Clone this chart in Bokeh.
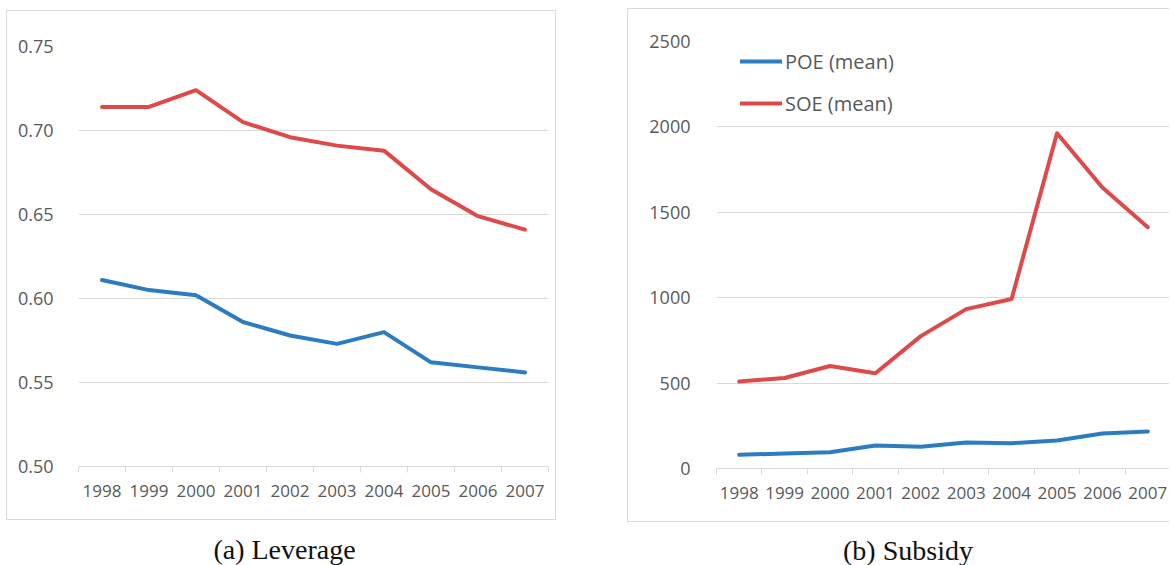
from bokeh.plotting import figure
from bokeh.models import (Range1d, FixedTicker, Div, Legend, LegendItem,
                          NumeralTickFormatter)
from bokeh.layouts import row, column
from bokeh.embed import file_html
from bokeh.resources import INLINE

# ---------------- data ----------------
years = ["1998", "1999", "2000", "2001", "2002", "2003", "2004", "2005", "2006", "2007"]
lev_poe = [0.611, 0.605, 0.602, 0.586, 0.578, 0.573, 0.580, 0.562, 0.559, 0.556]
lev_soe = [0.714, 0.714, 0.724, 0.705, 0.696, 0.691, 0.688, 0.665, 0.649, 0.641]
sub_poe = [80, 88, 95, 135, 127, 152, 148, 164, 205, 217]
sub_soe = [509, 530, 600, 558, 775, 933, 992, 1963, 1645, 1413]
lev_ticks = [0.50, 0.55, 0.60, 0.65, 0.70, 0.75]
sub_ticks = [0, 500, 1000, 1500, 2000, 2500]
series_names = ["POE (mean)", "SOE (mean)"]
captions = ["(a) Leverage", "(b) Subsidy"]

BLUE = "#2b7cc1"
RED = "#de4a4a"
GRID = "#d9d9d9"
TXT = "#595959"
FONT = "Open Sans"

n = len(years)
xs = [i + 0.5 for i in range(n)]
edges = list(range(n + 1))


def make_fig(width, height, mb, y_range, yticks, y_standoff, margin):
    p = figure(width=width, height=height, output_backend="svg",
               toolbar_location=None, x_range=Range1d(0, n), y_range=y_range,
               min_border_left=mb[0], min_border_right=mb[1],
               min_border_top=mb[2], min_border_bottom=mb[3],
               margin=margin)
    p.outline_line_color = None
    p.background_fill_color = "white"
    p.border_fill_color = "white"
    # x axis: labels at category centers, ticks on category boundaries
    xa = p.xaxis[0]
    xa.ticker = FixedTicker(ticks=xs, minor_ticks=edges)
    xa.major_label_overrides = {x: y for x, y in zip(xs, years)}
    xa.major_tick_line_color = None
    xa.major_tick_out = 0
    xa.major_tick_in = 0
    xa.minor_tick_line_color = GRID
    xa.minor_tick_out = 6
    xa.minor_tick_in = 0
    xa.axis_line_color = GRID
    xa.major_label_standoff = 12
    xa.major_label_text_font = FONT
    xa.major_label_text_font_size = "17px"
    xa.major_label_text_color = TXT
    # y axis
    ya = p.yaxis[0]
    ya.ticker = FixedTicker(ticks=yticks)
    ya.axis_line_color = None
    ya.major_tick_line_color = None
    ya.minor_tick_line_color = None
    ya.major_tick_out = 0
    ya.major_tick_in = 0
    ya.major_label_standoff = y_standoff
    ya.major_label_text_font = FONT
    ya.major_label_text_font_size = "18px"
    ya.major_label_text_color = TXT
    p.xgrid.visible = False
    p.ygrid.ticker = FixedTicker(ticks=yticks)
    p.ygrid.grid_line_color = GRID
    p.ygrid.grid_line_width = 1
    return p


# ---------- left: leverage ----------
p1 = make_fig(550, 510, (71, 9, 35, 55), Range1d(0.5, 0.75), lev_ticks, 25,
              (10, 0, 0, 6))
p1.yaxis[0].formatter = NumeralTickFormatter(format="0.00")
p1.line(xs, lev_poe, line_color=BLUE, line_width=4, line_cap="round", line_join="round")
p1.line(xs, lev_soe, line_color=RED, line_width=4, line_cap="round", line_join="round")
p1.styles = {"border": "1px solid " + GRID}

# ---------- right: subsidy ----------
p2 = make_fig(542, 514, (88, 0, 32, 55), Range1d(0, 2500), sub_ticks, 26,
              (8, 0, 0, 0))
r_poe = p2.line(xs, sub_poe, line_color=BLUE, line_width=4, line_cap="round", line_join="round")
r_soe = p2.line(xs, sub_soe, line_color=RED, line_width=4, line_cap="round", line_join="round")
p2.styles = {"border-top": "1px solid " + GRID, "border-left": "1px solid " + GRID,
             "border-bottom": "1px solid " + GRID}

legend = Legend(items=[LegendItem(label=series_names[0], renderers=[r_poe]),
                       LegendItem(label=series_names[1], renderers=[r_soe])],
                location=(24, 351))
legend.glyph_width = 42
legend.glyph_height = 28
legend.label_standoff = 3
legend.spacing = 14
legend.padding = 0
legend.margin = 0
legend.border_line_color = None
legend.background_fill_alpha = 0
legend.label_text_font = FONT
legend.label_text_font_size = "20px"
legend.label_text_color = TXT
p2.add_layout(legend)


def caption(text, width, height, pad_top, pad_left, margin_left):
    style = ("display:block;width:%dpx;text-align:center;font-family:'Liberation Serif';"
             "font-size:28px;line-height:26px;color:#111;padding-top:%dpx;"
             "padding-left:%dpx;box-sizing:border-box;" % (width, pad_top, pad_left))
    return Div(text='<div style="%s">%s</div>' % (style, text), width=width,
               height=height, margin=(0, 0, 0, margin_left),
               styles={"text-align": "center"})


cap1 = caption(captions[0], 552, 43, 17, 5, 6)
cap2 = caption(captions[1], 543, 41, 16, 19, 0)

layout = row(column(p1, cap1, spacing=0), column(p2, cap2, spacing=0), spacing=69)

open("out.html", "w").write(file_html(layout, INLINE))
